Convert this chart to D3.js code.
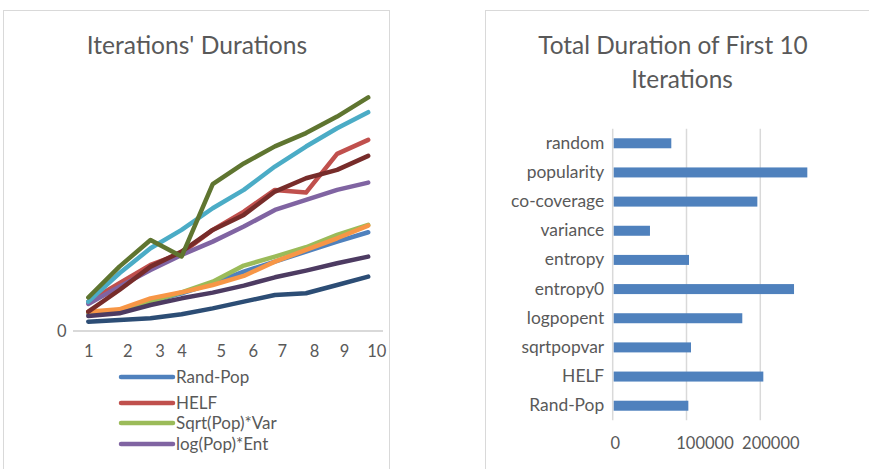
<!DOCTYPE html>
<html>
<head>
<meta charset="utf-8">
<script src="https://cdn.jsdelivr.net/npm/d3@7"></script>
<style>
  html, body { margin: 0; padding: 0; background: #ffffff; }
  svg { display: block; }
  text { font-family: Lato, "Open Sans", sans-serif; fill: #595959; }
</style>
</head>
<body>
<svg id="chart" width="869" height="469"></svg>
<script>
// ---- Data: per-iteration durations for each strategy ----
const iterations = [1, 2, 3, 4, 5, 6, 7, 8, 9, 10];

const randPop    = [3320, 3820, 5520, 7090, 8970, 11160, 13040, 14920, 16800, 18560];
const helf       = [5520, 8970, 12410, 14610, 19000, 22450, 26520, 26020, 33290, 35930];
const sqrtPopVar = [3450, 3820, 5520, 7270, 9280, 12290, 13980, 15740, 18060, 19940];
const logPopEnt  = [5080, 8340, 11470, 14300, 16800, 19630, 22760, 24640, 26520, 27900];
const entropy0   = [5520, 10850, 15550, 19000, 23070, 26520, 30910, 34670, 38120, 41130];
const entropy    = [3640, 4080, 6140, 7270, 8650, 10350, 13040, 15240, 17430, 19810];
const variance   = [1760, 2070, 2380, 3140, 4260, 5520, 6770, 7090, 8650, 10220];
const coCoverage = [3640, 7710, 12100, 14920, 19000, 21820, 26210, 28720, 30280, 32920];
const popularity = [6300, 12100, 17100, 14000, 27600, 31500, 34700, 37200, 40300, 43900];
const randomSel  = [2820, 3320, 4890, 6140, 7210, 8530, 10090, 11350, 12730, 13980];

const seriesNames = ["Rand-Pop", "HELF", "Sqrt(Pop)*Var", "log(Pop)*Ent", "entropy0",
                     "entropy", "variance", "co-coverage", "popularity", "random"];
const seriesValues = [randPop, helf, sqrtPopVar, logPopEnt, entropy0,
                      entropy, variance, coCoverage, popularity, randomSel];
const legendNames = ["Rand-Pop", "HELF", "Sqrt(Pop)*Var", "log(Pop)*Ent"];

// ---- Data: total duration of the first 10 iterations ----
const barCategories = ["random", "popularity", "co-coverage", "variance", "entropy",
                       "entropy0", "logpopent", "sqrtpopvar", "HELF", "Rand-Pop"];
const barTotals = [79400, 263700, 196000, 50500, 103400, 245700, 175600, 106100, 204100, 102500];
const barTicks = [0, 100000, 200000];

// ---- Styling ----
const palette = ["#4F81BD", "#C0504D", "#9BBB59", "#8064A2", "#4BACC6",
                 "#F79646", "#2C4D75", "#772C2A", "#5F7530", "#4D3B62"];
const gridColor = "#D9D9D9";
const textColor = "#595959";
const tickNudge = [0, 8, 9, 0, 8, 9, 7, 8, 7, 8];
const legendRowY = [377, 403, 423, 444];

const svg = d3.select("#chart");

// Panel frames
svg.append("rect").attr("x", 3.5).attr("y", 10.5).attr("width", 386).attr("height", 470)
  .attr("fill", "none").attr("stroke", gridColor);
svg.append("rect").attr("x", 485.5).attr("y", 10.5).attr("width", 400).attr("height", 470)
  .attr("fill", "none").attr("stroke", gridColor);

// ================= Line chart =================
const left = svg.append("g");
left.append("text").attr("x", 197).attr("y", 54)
  .attr("text-anchor", "middle").style("font-size", "24.6px")
  .text("Iterations' Durations");

const x = d3.scalePoint().domain(iterations).range([88.3, 368.2]);
const y = d3.scaleLinear().domain([0, 45000]).range([331, 91.6]);

// zero baseline
left.append("line").attr("x1", 73).attr("x2", 383)
  .attr("y1", y(0)).attr("y2", y(0))
  .attr("stroke", gridColor).attr("stroke-width", 2);
left.append("text").attr("x", 66.5).attr("y", y(0)).attr("dy", "0.35em")
  .attr("text-anchor", "end").style("font-size", "16.5px").text("0");

// x axis labels
const xAxis = d3.axisBottom(x).tickSize(0).tickPadding(0);
const xg = left.append("g").attr("transform", `translate(0,${345})`).call(xAxis);
xg.select(".domain").remove();
xg.selectAll(".tick text")
  .attr("x", (d, i) => tickNudge[i])
  .attr("y", 0).attr("dy", "0.71em")
  .style("font-size", "16.5px").style("font-family", "Lato, sans-serif").attr("fill", textColor);

const line = d3.line().x((d, i) => x(iterations[i])).y(d => y(d));
left.append("g").selectAll("path")
  .data(seriesValues)
  .join("path")
  .attr("d", d => line(d))
  .attr("fill", "none")
  .attr("stroke", (d, i) => palette[i])
  .attr("stroke-width", 4.5)
  .attr("stroke-linecap", "round")
  .attr("stroke-linejoin", "round");

// legend (first entries)
const legend = left.append("g");
legendNames.forEach((name, i) => {
  const idx = seriesNames.indexOf(name);
  legend.append("line").attr("x1", 121).attr("x2", 173)
    .attr("y1", legendRowY[i]).attr("y2", legendRowY[i])
    .attr("stroke", palette[idx]).attr("stroke-width", 4.5).attr("stroke-linecap", "round");
  legend.append("text").attr("x", 176).attr("y", legendRowY[i]).attr("dy", "0.35em")
    .style("font-size", "17px").text(name);
});

// ================= Bar chart =================
const right = svg.append("g");
right.append("text").attr("x", 673).attr("y", 54)
  .attr("text-anchor", "middle").style("font-size", "24.4px")
  .text("Total Duration of First 10");
right.append("text").attr("x", 682).attr("y", 87.5)
  .attr("text-anchor", "middle").style("font-size", "24.4px")
  .text("Iterations");

const bx = d3.scaleLinear().domain([0, 200000]).range([612.7, 760.3]);
const by = d3.scaleBand().domain(barCategories).range([128.7, 420.3])
  .paddingInner(0.657).paddingOuter(0.3285);

right.append("g").selectAll("line")
  .data(barTicks)
  .join("line")
  .attr("x1", d => bx(d)).attr("x2", d => bx(d))
  .attr("y1", 128.7).attr("y2", 420.3)
  .attr("stroke", gridColor).attr("stroke-width", 1.5);

right.append("g").selectAll("rect")
  .data(barCategories)
  .join("rect")
  .attr("x", bx(0) + 1)
  .attr("y", d => by(d))
  .attr("width", (d, i) => bx(barTotals[i]) - bx(0) - 1)
  .attr("height", by.bandwidth())
  .attr("fill", "#4F81BD");

const yAxis = d3.axisLeft(by).tickSize(0).tickPadding(8.5);
const yg = right.append("g").attr("transform", `translate(${612.7},0)`).call(yAxis);
yg.select(".domain").remove();
yg.selectAll(".tick text")
  .style("font-size", "17.4px").style("font-family", "Lato, sans-serif").attr("fill", textColor);

const xAxisB = d3.axisBottom(bx).tickValues(barTicks).tickFormat(d3.format("d"))
  .tickSize(0).tickPadding(0);
const xgb = right.append("g").attr("transform", `translate(0,${437})`).call(xAxisB);
xgb.select(".domain").remove();
xgb.selectAll(".tick text")
  .attr("x", (d, i) => [2, 18, 10][i])
  .attr("dy", "0.71em")
  .style("font-size", "16.5px").style("font-family", "Lato, sans-serif").attr("fill", textColor);
</script>
</body>
</html>
